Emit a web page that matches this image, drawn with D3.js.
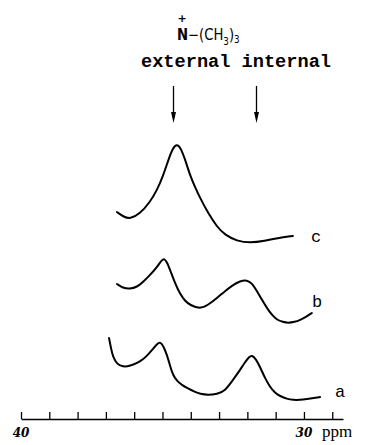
<!DOCTYPE html>
<html><head><meta charset="utf-8">
<script src="https://cdn.jsdelivr.net/npm/d3@7/dist/d3.min.js"></script>
<style>
html,body{margin:0;padding:0;background:#fff;}
svg{display:block;}
</style></head>
<body>
<svg id="chart" width="365" height="445"></svg>
<script>
// ---- data (chemical shift in ppm, intensity in arbitrary units above each trace's baseline)
const traceNames = ["a", "b", "c"];
const traceOffsets = [19, 96, 176];

const ppmA = [36.89,36.82,36.75,36.61,36.40,36.15,35.80,35.55,35.34,35.19,35.09,34.98,34.84,34.73,34.63,34.49,34.31,34.13,33.85,33.67,33.39,33.07,32.79,32.51,32.26,32.08,31.94,31.84,31.70,31.55,31.38,31.20,31.02,30.85,30.60,30.39,30.14,29.89,29.65,29.43];
const intA = [62,52,43,36,33,34,38,44,51,56,58,55,45,34,25,19,15,12,8,6,5,6,9,20,30,38,43,45,41,33,22,13,7,4,1,0,0,1,2,3];

const ppmB = [36.61,36.40,36.15,35.90,35.69,35.44,35.19,35.05,34.95,34.84,34.73,34.56,34.38,34.20,34.03,33.67,33.39,33.07,32.79,32.51,32.26,32.01,31.84,31.66,31.48,31.31,31.13,30.95,30.74,30.57,30.32,30.14,29.93,29.72];
const intB = [39,35,34,36,41,48,56,62,65,61,53,40,29,22,18,14,18,25,32,38,42,43,40,32,23,15,8,3,1,0,1,3,6,10];

const ppmC = [36.61,36.36,36.15,35.80,35.44,35.19,34.98,34.77,34.63,34.49,34.35,34.17,34.03,33.85,33.67,33.39,33.07,32.79,32.37,31.91,31.38,30.95,30.39];
const intC = [31,26,24,29,41,53,67,85,95,99,95,81,68,56,45,30,16,8,2,0,2,5,7];

const arrowPpm = [34.63, 31.70];
const arrowNames = ["external", "internal"];
const tickValues = [40,39,38,37,36,35,34,33,32,31,30,29];
const tickLabels = [{v:40, t:"40"}, {v:30, t:"30"}];
const axisUnit = "ppm";

// ---- drawing
const svg = d3.select("#chart");
const x = d3.scaleLinear().domain([40, 28.62]).range([21, 343]);
const y = d3.scaleLinear().domain([0, 300]).range([419, 119]);

const traces = [
  {name: traceNames[0], ppm: ppmA, val: intA, off: traceOffsets[0]},
  {name: traceNames[1], ppm: ppmB, val: intB, off: traceOffsets[1]},
  {name: traceNames[2], ppm: ppmC, val: intC, off: traceOffsets[2]}
];

const line = d3.line()
  .x(d => x(d[0]))
  .y(d => y(d[1]))
  .curve(d3.curveBasis);

traces.forEach(t => {
  const pts = t.ppm.map((p, i) => [p, t.val[i] + t.off]);
  svg.append("path")
    .attr("d", line(pts))
    .attr("fill", "none")
    .attr("stroke", "#000")
    .attr("stroke-width", 2)
    .attr("stroke-linecap", "round")
    .attr("stroke-linejoin", "round");
});

// trace labels
const labelPos = {a: [335, 397], b: [312, 307], c: [311, 242]};
traces.forEach(t => {
  svg.append("text")
    .attr("x", labelPos[t.name][0])
    .attr("y", labelPos[t.name][1])
    .attr("font-family", "'Liberation Mono', 'DejaVu Sans Mono', monospace")
    .attr("font-size", 17)
    .attr("fill", "#000")
    .text(t.name);
});

// axis
const axis = d3.axisTop(x).tickValues(tickValues).tickSize(7).tickSizeOuter(0).tickFormat("");
const gAxis = svg.append("g").attr("transform", "translate(0,419)").call(axis);
gAxis.select(".domain").attr("stroke", "#000").attr("stroke-width", 1.5);
gAxis.selectAll(".tick line").attr("stroke", "#000").attr("stroke-width", 1.3);

tickLabels.forEach(l => {
  svg.append("text")
    .attr("x", x(l.v))
    .attr("y", 437)
    .attr("text-anchor", "middle")
    .attr("font-family", "'DejaVu Serif', serif")
    .attr("font-style", "italic")
    .attr("font-weight", "bold")
    .attr("font-size", 12)
    .attr("fill", "#000")
    .text(l.t);
});
svg.append("text")
  .attr("x", 322).attr("y", 437)
  .attr("font-family", "'Liberation Serif', serif")
  .attr("font-size", 17)
  .attr("fill", "#000")
  .text(axisUnit);

// arrows
arrowPpm.forEach(p => {
  const ax = Math.round(x(p)) + 0.5;
  svg.append("line")
    .attr("x1", ax).attr("x2", ax).attr("y1", 86).attr("y2", 118)
    .attr("stroke", "#000").attr("stroke-width", 1.3);
  svg.append("path")
    .attr("d", `M${ax-2.5},${112}L${ax+2.5},${112}L${ax},${123}Z`)
    .attr("fill", "#000");
});

// header text
svg.append("text")
  .attr("x", 141).attr("y", 67)
  .attr("font-family", "'Liberation Mono', 'DejaVu Sans Mono', monospace")
  .attr("font-weight", "bold")
  .attr("font-size", 18)
  .attr("textLength", 190)
  .attr("lengthAdjust", "spacingAndGlyphs")
  .attr("fill", "#000")
  .text(arrowNames.join(" "));

// chemical group label as a single text with sub-scripted tspans
const chem = svg.append("g")
  .attr("transform", "translate(177,40) scale(0.88,1)")
  .append("text")
  .attr("x", 0).attr("y", 0)
  .attr("font-family", "'DejaVu Sans', sans-serif")
  .attr("font-size", 15)
  .attr("fill", "#000");
chem.append("tspan").attr("font-weight", "bold").text("N");
chem.append("tspan").text("−(CH");
chem.append("tspan").attr("dy", 5).attr("font-size", 10).text("3");
chem.append("tspan").attr("dy", -5).text(")");
chem.append("tspan").attr("dy", 3).attr("font-size", 10).text("3");

svg.append("text")
  .attr("x", 182).attr("y", 22)
  .attr("text-anchor", "middle")
  .attr("font-family", "'DejaVu Sans', sans-serif")
  .attr("font-weight", "bold")
  .attr("font-size", 11)
  .attr("fill", "#000")
  .text("+");
</script>
</body></html>
